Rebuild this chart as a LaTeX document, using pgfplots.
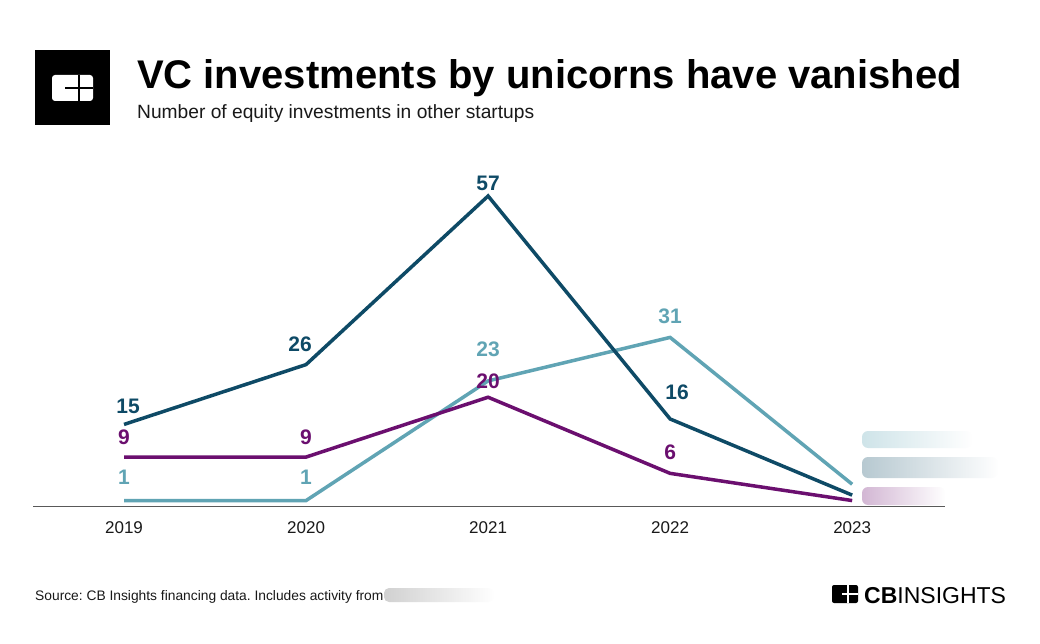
\documentclass[border=0pt]{standalone}
\usepackage{pgfplots}
\pgfplotsset{compat=1.18}
\usepackage{fontspec}
\setmainfont{Liberation Sans}
\usetikzlibrary{fadings}
\definecolor{navy}{HTML}{0E4A66}
\definecolor{teal2}{HTML}{60A4B4}
\definecolor{purp}{HTML}{6B0F6F}
\frenchspacing
\begin{document}
\begin{tikzpicture}[x=1pt,y=1pt]
\path[fill=white,use as bounding box] (0,0) rectangle (1040,643);
% logo
\fill[black] (35,518) rectangle (110,593);
\fill[white,rounded corners=3pt] (52,542) rectangle (93,568);
\draw[black,line width=1.6pt] (79,542) -- (79,568);
\draw[black,line width=1.6pt] (65,555) -- (93,555);
% title
\node[anchor=base west,inner sep=0pt,font=\fontsize{40}{40}\selectfont\bfseries] at (137,554) {VC investments by unicorns have vanished};
\node[anchor=base west,inner sep=0pt,font=\fontsize{19.2}{19.2}\selectfont,text=black!90] at (137,524) {Number of equity investments in other startups};
% axis
\begin{axis}[
  at={(33pt,137pt)}, anchor=south west,
  scale only axis, width=912pt, height=310pt,
  xmin=2018.5, xmax=2023.51, ymin=0, ymax=57,
  clip=false,
  axis y line=none,
  axis x line*=bottom,
  axis line style={draw=black!65,line width=0.8pt,-},
  xtick={2019,2020,2021,2022,2023},
  xticklabels={2019,2020,2021,2022,2023},
  major tick length=0pt,
  xticklabel style={font=\fontsize{17}{17}\selectfont,text=black!90,yshift=-12pt},
  every axis plot/.append style={line width=3.5pt,mark=none,line join=miter},
  point meta=explicit symbolic,
  nodes near coords,
  visualization depends on={value \thisrow{dy} \as \dy},
  visualization depends on={value \thisrow{dx} \as \dx},
  nodes near coords style={anchor=south,inner sep=0pt,yshift=\dy pt,xshift=\dx pt,font=\fontsize{21}{21}\selectfont\bfseries},
]
\addplot[teal2,nodes near coords style={text=teal2}] table[meta=lab] {
x y lab dy dx
2019 1 1 14 0
2020 1 1 14 0
2021 23 23 22 0
2022 31 31 12 0
2023 4 {} 0 0
};
\addplot[purp,nodes near coords style={text=purp}] table[meta=lab] {
x y lab dy dx
2019 9 9 11 0
2020 9 9 11 0
2021 20 20 7 0
2022 6 6 12 0
2023 1 {} 0 0
};
\addplot[navy,nodes near coords style={text=navy}] table[meta=lab] {
x y lab dy dx
2019 15 15 9 4
2020 26 26 11 -6
2021 57 57 4 0
2022 16 16 18 7
2023 2 {} 0 0
};
\end{axis}
% blurred legend placeholders
\fill[teal2!30,rounded corners=6pt,path fading=east] (862,195) rectangle (972,212);
\fill[navy!30,rounded corners=6pt,path fading=east] (862,165) rectangle (998,186);
\fill[purp!30,rounded corners=6pt,path fading=east] (862,138) rectangle (945,156);
% source
\node[anchor=base west,inner sep=0pt,font=\fontsize{13.8}{13.8}\selectfont,text=black!90] at (35,43) {Source: CB Insights financing data. Includes activity from};
\fill[black!18,rounded corners=5pt,path fading=east] (384,41) rectangle (494,55);
% CB Insights logo
\fill[black,rounded corners=2pt] (832,40) rectangle (858,58);
\draw[white,line width=1.3pt] (848,40) -- (848,58);
\draw[white,line width=1.3pt] (842,49) -- (858,49);
\node[anchor=base west,inner sep=0pt,font=\fontsize{23}{23}\selectfont] at (864,40) {\textbf{CB}INSIGHTS};
\end{tikzpicture}
\end{document}
